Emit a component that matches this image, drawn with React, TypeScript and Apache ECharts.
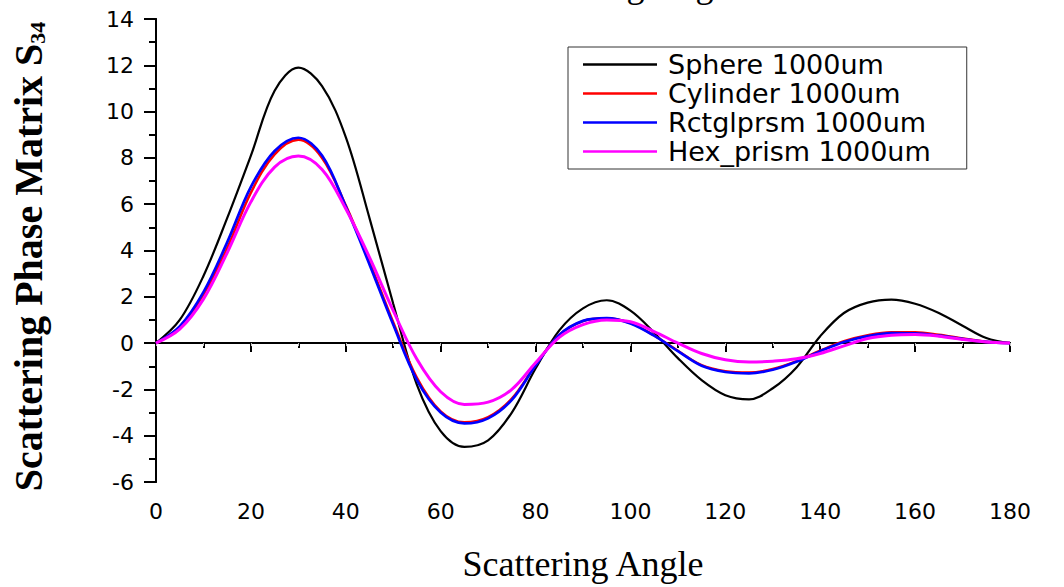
import React, { useEffect, useRef } from "react";
import * as echarts from "echarts";

const angles = [0, 5, 10, 15, 20, 25, 30, 35, 40, 45, 50, 55, 60, 65, 70, 75, 80, 85, 90, 95, 100, 105, 110, 115, 120, 125, 130, 135, 140, 145, 150, 155, 160, 165, 170, 175, 180];

const sphere = [0, 1.0, 2.9, 5.4, 8.1, 10.9, 11.9, 11.1, 8.9, 5.4, 1.7, -1.8, -3.8, -4.48, -4.2, -3.0, -1.1, 0.55, 1.5, 1.85, 1.4, 0.45, -0.65, -1.6, -2.25, -2.43, -1.95, -1.05, 0.3, 1.3, 1.75, 1.88, 1.7, 1.3, 0.75, 0.22, 0];
const cylinder = [0, 0.7, 2.1, 4.1, 6.5, 8.15, 8.78, 8.0, 5.95, 3.5, 0.9, -1.5, -2.95, -3.42, -3.2, -2.4, -0.95, 0.35, 0.95, 1.07, 0.86, 0.33, -0.33, -0.95, -1.21, -1.27, -1.12, -0.78, -0.33, 0.08, 0.34, 0.47, 0.47, 0.36, 0.2, 0.06, 0];
const rctglprsm = [0, 0.72, 2.2, 4.35, 6.75, 8.3, 8.87, 8.1, 5.9, 3.4, 0.8, -1.6, -3.0, -3.47, -3.25, -2.45, -0.97, 0.35, 0.96, 1.08, 0.85, 0.32, -0.35, -0.98, -1.25, -1.31, -1.15, -0.8, -0.35, 0.05, 0.3, 0.43, 0.42, 0.32, 0.18, 0.05, 0];
const hexPrism = [0, 0.6, 1.9, 3.9, 6.1, 7.6, 8.08, 7.5, 5.8, 3.7, 1.4, -0.7, -2.1, -2.65, -2.55, -2.0, -0.85, 0.25, 0.8, 1.0, 0.92, 0.5, 0.0, -0.45, -0.72, -0.82, -0.78, -0.68, -0.45, -0.12, 0.2, 0.34, 0.37, 0.3, 0.16, 0.05, 0];

const seriesNames = ["Sphere 1000um", "Cylinder 1000um", "Rctglprsm 1000um", "Hex_prism 1000um"];
const seriesColors = ["#000000", "#ff0000", "#0000ff", "#ff00ff"];
const seriesWidths = [2.2, 2.5, 2.7, 3];
const seriesValues = [sphere, cylinder, rctglprsm, hexPrism];

const xTitle = "Scattering Angle";
const yTitleMain = "Scattering Phase Matrix S";
const yTitleSub = "34";

const SANS = "DejaVu Sans";
const SERIF = "Liberation Serif, Times New Roman, serif";

export default function App() {
  const ref = useRef<HTMLDivElement>(null);
  useEffect(() => {
    if (!ref.current) return;
    const chart = echarts.init(ref.current, undefined, { renderer: "svg" });
    const axisLine = { show: true, lineStyle: { color: "#000", width: 2 } };
    chart.setOption({
      animation: false,
      backgroundColor: "#fff",
      grid: { left: 155, top: 19, right: 54, bottom: 103, containLabel: false },
      legend: {
        orient: "vertical",
        left: 568,
        top: 47,
        padding: [3, 36, 3, 15],
        itemGap: 0,
        itemWidth: 74,
        itemHeight: 2.5,
        icon: "rect",
        borderColor: "#333",
        borderWidth: 1,
        backgroundColor: "#fff",
        textStyle: { fontFamily: SANS, fontSize: 27, color: "#000", lineHeight: 29, padding: [0, 0, 0, 6] },
        data: seriesNames,
      },
      xAxis: [
        {
          type: "value",
          min: 0,
          max: 180,
          interval: 20,
          position: "bottom",
          name: xTitle,
          nameLocation: "middle",
          nameGap: 64,
          nameTextStyle: { fontFamily: SERIF, fontSize: 36, color: "#000" },
          axisLine,
          axisTick: { show: true, inside: false, length: 9, lineStyle: { color: "#000", width: 2 } },
          minorTick: { show: true, splitNumber: 2, length: 5, lineStyle: { color: "#000", width: 2 } },
          axisLabel: { fontFamily: SANS, fontSize: 22, color: "#000", margin: 18 },
          splitLine: { show: false },
        },
        {
          type: "value",
          min: 0,
          max: 180,
          interval: 10,
          position: "top",
          axisLine,
          axisTick: { show: true, inside: true, length: 3, lineStyle: { color: "#c8c8c8", width: 1 } },
          axisLabel: { show: false },
          splitLine: { show: false },
        },
      ],
      yAxis: [
        {
          type: "value",
          min: -6,
          max: 14,
          interval: 2,
          position: "left",
          name: "{m|" + yTitleMain + "}{s|" + yTitleSub + "}",
          nameLocation: "middle",
          nameRotate: 90,
          nameGap: 108,
          nameTextStyle: {
            padding: [0, 12, 0, 0],
            rich: {
              m: { fontFamily: SERIF, fontWeight: "bold", fontSize: 40, color: "#000", lineHeight: 40 },
              s: { fontFamily: SERIF, fontWeight: "bold", fontSize: 22, color: "#000", verticalAlign: "bottom", lineHeight: 22 },
            },
          },
          axisLine,
          axisTick: { show: true, inside: false, length: 12, lineStyle: { color: "#000", width: 2 } },
          minorTick: { show: true, splitNumber: 2, length: 7, lineStyle: { color: "#000", width: 2 } },
          axisLabel: { fontFamily: SANS, fontSize: 22, color: "#000", margin: 22 },
          splitLine: { show: false },
        },
        {
          type: "value",
          min: -6,
          max: 14,
          interval: 2,
          position: "right",
          axisLine,
          axisTick: { show: false },
          axisLabel: { show: false },
          splitLine: { show: false },
        },
      ],
      graphic: [
        {
          type: "text",
          x: 619,
          y: 3,
          style: {
            text: xTitle,
            fontFamily: SERIF,
            fontSize: 36,
            fill: "#000",
            align: "center",
            verticalAlign: "bottom",
          },
        },
      ],
      series: seriesValues.map((vals, i) => ({
        name: seriesNames[i],
        type: "line",
        xAxisIndex: 0,
        yAxisIndex: 0,
        data: angles.map((a, j) => [a, vals[j]]),
        smooth: 0.35,
        symbol: "none",
        showSymbol: false,
        lineStyle: { color: seriesColors[i], width: seriesWidths[i] },
        itemStyle: { color: seriesColors[i] },
        z: 2 + i,
      })),
    });
    return () => chart.dispose();
  }, []);
  return <div ref={ref} style={{ position: "fixed", left: 0, top: 0, width: 1064, height: 587 }} />;
}
